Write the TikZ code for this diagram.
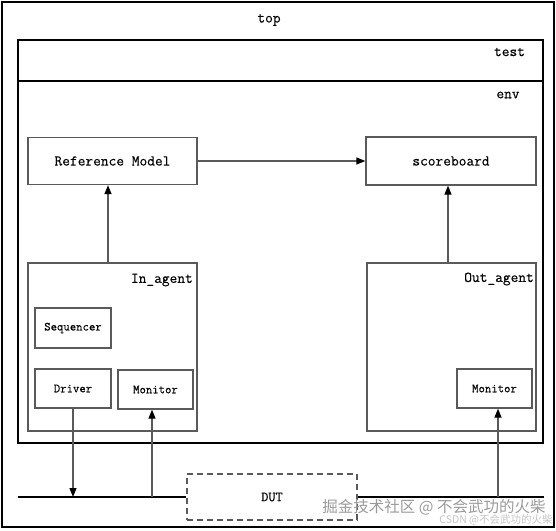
\documentclass[tikz,border=0pt]{standalone}
\usepackage{fontspec}
\newfontfamily\cjk{Noto Sans CJK SC}
\newfontfamily\mono{Latin Modern Mono}[FakeBold=0.3]
\usetikzlibrary{arrows.meta}
\definecolor{boxgray}{HTML}{5A5A5A}
\definecolor{wmA}{HTML}{9A9A9A}
\definecolor{wmB}{HTML}{C4C4C4}
\tikzset{
  outerbox/.style={draw=black, line width=1.2pt, rectangle, inner sep=0pt},
  box/.style={draw=boxgray, line width=1.3pt, rectangle, inner sep=0pt, font=\mono\fontsize{15}{18}\selectfont},
  smallbox/.style={box, font=\mono\fontsize{12.4}{15}\selectfont},
  lbl/.style={font=\mono\fontsize{15}{18}\selectfont, inner sep=0pt},
  arr/.style={draw=boxgray, line width=1.3pt, -{Triangle[length=9pt,width=7pt,fill=black,color=black]}},
  wire/.style={draw=black, line width=1.1pt},
}
\begin{document}
\begin{tikzpicture}[x=1pt,y=-1pt]
\useasboundingbox (0,0) rectangle (556,530);
% containers
\node[outerbox, minimum width=552pt, minimum height=525pt] (top) at (278,264.5) {};
\node[lbl] (toplbl) at (269,20) {top};
\node[outerbox, minimum width=525pt, minimum height=403pt] (test) at (280.5,241.5) {};
\coordinate (sep) at (0,81);
\draw[black, line width=1.2pt] (test.west |- sep) -- (test.east |- sep);
\node[lbl] (testlbl) at (509.5,52) {test};
\node[lbl] (envlbl) at (508,95) {env};
% components
\node[box, minimum width=169pt, minimum height=47pt] (rm) at (112.5,161) {Reference Model};
\node[box, minimum width=170pt, minimum height=48pt] (sb) at (451,161) {scoreboard};
\node[box, minimum width=169pt, minimum height=168pt] (inag) at (112.5,347) {};
\node[lbl, anchor=east] (inlbl) at (193,280) {In\_agent};
\node[box, minimum width=169pt, minimum height=168pt] (outag) at (451.5,347) {};
\node[lbl, anchor=east] (outlbl) at (534,279) {Out\_agent};
\node[smallbox, minimum width=76pt, minimum height=40pt] (seq) at (73,328) {Sequencer};
\node[smallbox, minimum width=76pt, minimum height=39pt] (drv) at (73,388.5) {Driver};
\node[smallbox, minimum width=75pt, minimum height=39pt] (mon1) at (155.5,389.5) {Monitor};
\node[smallbox, minimum width=75pt, minimum height=39pt] (mon2) at (494.5,388.5) {Monitor};
\node[draw=boxgray, line width=1.3pt, dashed, dash pattern=on 6pt off 4pt, rectangle, inner sep=0pt,
      minimum width=170pt, minimum height=46pt, font=\mono\fontsize{14}{17}\selectfont] (dut) at (272,497) {DUT};
% bus
\coordinate (busL) at (18,497);
\coordinate (busR) at (544,497);
\draw[wire] (busL) -- (dut.west);
\draw[wire] (dut.east) -- (busR);
% connectors
\coordinate (xa) at (108,0);
\coordinate (xb) at (448,0);
\coordinate (xc) at (152,0);
\coordinate (xd) at (498,0);
\draw[arr] (rm.east) -- (sb.west);
\draw[arr] (inag.north -| xa) -- (rm.south -| xa);
\draw[arr] (outag.north -| xb) -- (sb.south -| xb);
\draw[arr] (drv.south) -- (drv.south |- busL);
\draw[arr] (busL -| xc) -- (mon1.south -| xc);
\draw[arr] (busR -| xd) -- (mon2.south -| xd);
% watermarks
\node[inner sep=0pt, text=wmA, font=\cjk\fontsize{15.5}{18}\selectfont] (wm1) at (434,507) {掘金技术社区 @ 不会武功的火柴};
\node[inner sep=0pt, text=wmB, font=\cjk\fontsize{10.5}{12}\selectfont] (wm2) at (496,519.5) {CSDN @不会武功的火柴};
\end{tikzpicture}
\end{document}
